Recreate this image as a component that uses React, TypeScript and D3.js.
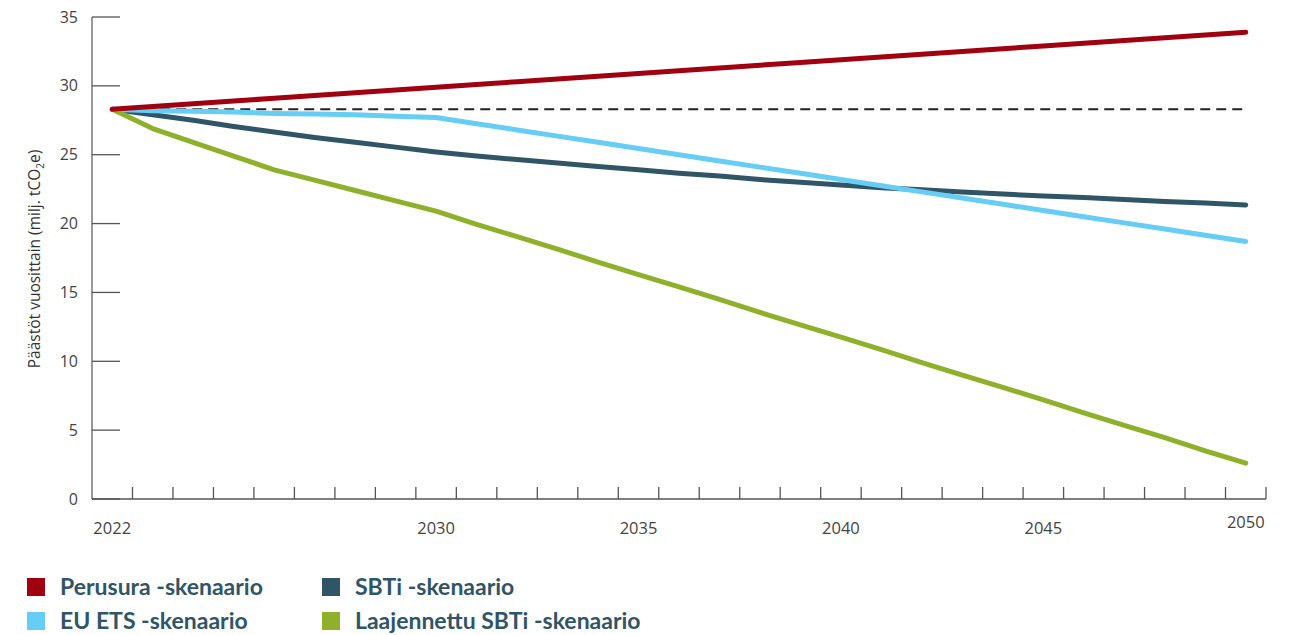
import React from "react";
import * as d3 from "d3";

const years = [2022,2023,2024,2025,2026,2027,2028,2029,2030,2031,2032,2033,2034,2035,2036,2037,2038,2039,2040,2041,2042,2043,2044,2045,2046,2047,2048,2049,2050];
const perusura = [28.3,28.5,28.7,28.9,29.1,29.3,29.5,29.7,29.9,30.1,30.3,30.5,30.7,30.9,31.1,31.3,31.5,31.7,31.9,32.1,32.3,32.5,32.7,32.9,33.1,33.3,33.5,33.7,33.9];
const euEts = [28.3,28.2,28.15,28.1,28.0,27.95,27.9,27.8,27.7,27.25,26.8,26.35,25.9,25.45,25.0,24.55,24.1,23.65,23.2,22.75,22.3,21.85,21.4,20.95,20.5,20.05,19.6,19.15,18.7];
const sbti = [28.3,27.9,27.5,27.05,26.65,26.25,25.9,25.55,25.2,24.9,24.65,24.4,24.15,23.9,23.65,23.45,23.2,23.0,22.8,22.6,22.45,22.3,22.15,22.0,21.9,21.75,21.6,21.5,21.35];
const laajennettu = [28.3,26.9,25.9,24.9,23.9,23.15,22.4,21.65,20.9,19.95,19.05,18.15,17.2,16.3,15.4,14.5,13.55,12.65,11.75,10.85,9.9,9.0,8.1,7.2,6.25,5.35,4.45,3.5,2.6];
const baseline = years.map(() => 28.3);
const yTicks = [0,5,10,15,20,25,30,35];
const xLabels = [2022,2030,2035,2040,2045,2050];

const seriesNames = ["Perusura -skenaario", "SBTi -skenaario", "EU ETS -skenaario", "Laajennettu SBTi -skenaario"];
const seriesColors = ["#a0000f", "#2f5566", "#66cdf5", "#8fb02b"];

export default function App() {
  const x = d3.scaleLinear().domain([2021.5, 2050.5]).range([92, 1266]);
  const y = d3.scaleLinear().domain([0, 35]).range([499, 17]);
  const line = d3.line<[number, number]>().x(d => x(d[0])).y(d => y(d[1]));
  const mk = (vals: number[]) => line(years.map((yr, i) => [yr, vals[i]] as [number, number])) || "";
  const tickPositions = d3.range(2022.5, 2051, 1);
  const drawOrder = [
    { vals: sbti, color: seriesColors[1] },
    { vals: laajennettu, color: seriesColors[3] },
    { vals: euEts, color: seriesColors[2] },
    { vals: perusura, color: seriesColors[0] },
  ];
  const legendItems = [
    { name: seriesNames[0], color: seriesColors[0], lx: 27, ly: 578 },
    { name: seriesNames[1], color: seriesColors[1], lx: 322, ly: 578 },
    { name: seriesNames[2], color: seriesColors[2], lx: 27, ly: 612 },
    { name: seriesNames[3], color: seriesColors[3], lx: 322, ly: 612 },
  ];
  return (
    <svg width={1304} height={635} style={{ position: "absolute", left: 0, top: 0, background: "#fff" }}>
      {/* y axis */}
      <line x1={x(2021.5)} x2={x(2021.5)} y1={y(35)} y2={y(0)} stroke="#777" strokeWidth={1.5} />
      {yTicks.map(t => (
        <g key={t}>
          <line x1={92} x2={120} y1={y(t)} y2={y(t)} stroke="#555" strokeWidth={1.3} />
          <text x={78} y={y(t) + 5.5} textAnchor="end" fontFamily="'Open Sans', sans-serif" fontSize={16} fill="#444">{t}</text>
        </g>
      ))}
      {/* x axis */}
      <line x1={x(2021.5)} x2={x(2050.5)} y1={y(0)} y2={y(0)} stroke="#555" strokeWidth={1.3} />
      {tickPositions.map(t => (
        <line key={t} x1={x(t)} x2={x(t)} y1={y(0)} y2={y(0) - 12} stroke="#555" strokeWidth={1.3} />
      ))}
      {xLabels.map(l => (
        <text key={l} x={x(l)} y={l === 2050 ? 528 : 534} textAnchor="middle" fontFamily="'Open Sans', sans-serif" fontSize={16.5} fill="#444">{l}</text>
      ))}
      {/* y title */}
      <text transform={`translate(40,${259}) rotate(-90)`} textAnchor="middle" fontFamily="'Open Sans', sans-serif" fontSize={15.5} fill="#333">
        Päästöt vuosittain (milj. tCO<tspan fontSize={10} dy={4}>2</tspan><tspan dy={-4}>e)</tspan>
      </text>
      {/* baseline */}
      <path d={mk(baseline)} fill="none" stroke="#222" strokeWidth={2.2} strokeDasharray="10,6" />
      {drawOrder.map((s, i) => (
        <path key={i} d={mk(s.vals)} fill="none" stroke={s.color} strokeWidth={5} strokeLinejoin="round" strokeLinecap="round" />
      ))}
      {/* legend */}
      {legendItems.map(it => (
        <g key={it.name}>
          <rect x={it.lx} y={it.ly} width={18} height={18} fill={it.color} />
          <text x={it.lx + 33} y={it.ly + 17} fontFamily="Lato, sans-serif" fontWeight={700} fontSize={23} fill="#2f5566">{it.name}</text>
        </g>
      ))}
    </svg>
  );
}
